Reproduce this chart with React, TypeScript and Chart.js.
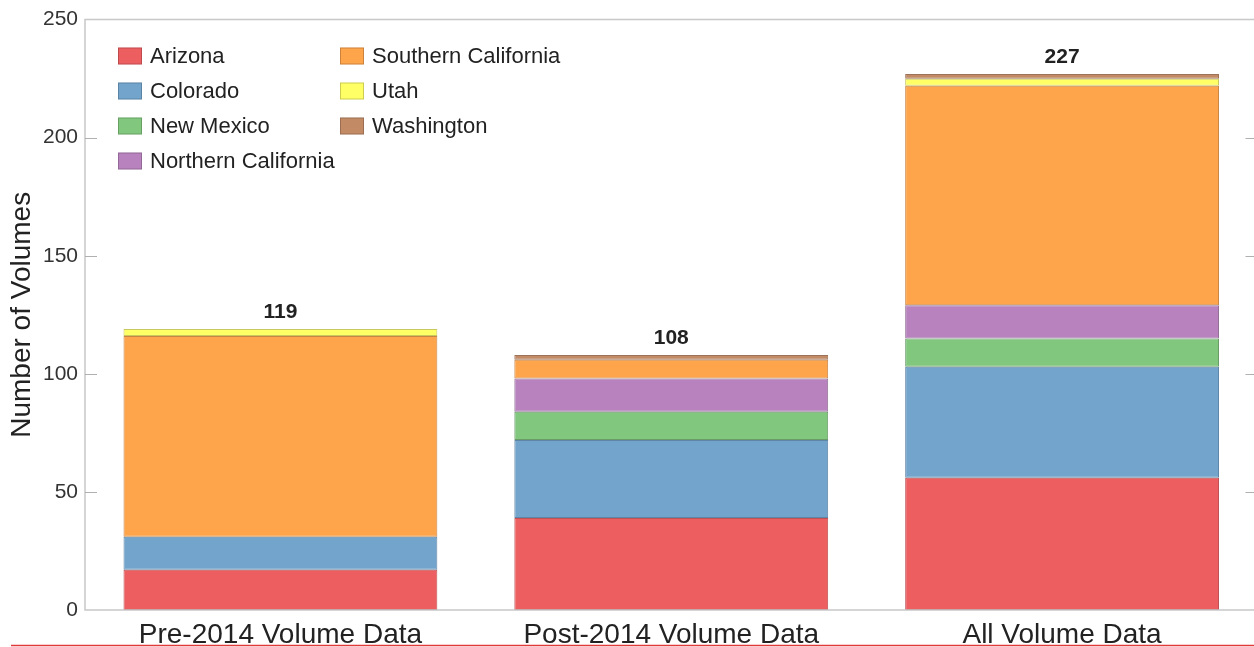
import React, { useEffect, useRef } from "react";
import { Chart, registerables } from "chart.js";

Chart.register(...registerables);

const categories = ["Pre-2014 Volume Data", "Post-2014 Volume Data", "All Volume Data"];
const arizona = [17, 39, 56];
const colorado = [14, 33, 47];
const newMexico = [0, 12, 12];
const northernCalifornia = [0, 14, 14];
const southernCalifornia = [85, 8, 93];
const utah = [3, 0, 3];
const washington = [0, 2, 2];
const totals = [119, 108, 227];
const yTicks = [50, 100, 150, 200];

const seriesNames = ["Arizona", "Colorado", "New Mexico", "Northern California", "Southern California", "Utah", "Washington"];
const seriesValues = [arizona, colorado, newMexico, northernCalifornia, southernCalifornia, utah, washington];
const seriesColors = ["#ED5E61", "#72A4CC", "#81C77E", "#B782BD", "#FEA44B", "#FFFF66", "#C38A66"];
const seriesBorders = ["#BE5254", "#5F86A6", "#6A9C68", "#927098", "#C98544", "#C9C760", "#9C7258"];

const FONT = "'Liberation Sans', Arial, sans-serif";

const decorPlugin = {
  id: "decor",
  afterDatasetsDraw(chart: any) {
    const { ctx, chartArea } = chart;
    const { left, right, top, bottom } = chartArea;
    const y = chart.scales.y;
    ctx.save();
    // frame
    ctx.strokeStyle = "#c8c8c8";
    ctx.lineWidth = 1.5;
    ctx.beginPath();
    ctx.moveTo(left, top);
    ctx.lineTo(right, top);
    ctx.lineTo(right, bottom);
    ctx.lineTo(left, bottom);
    ctx.closePath();
    ctx.stroke();
    // inward ticks
    ctx.strokeStyle = "#b0b0b0";
    ctx.lineWidth = 1.2;
    yTicks.forEach((v) => {
      const py = Math.round(y.getPixelForValue(v)) + 0.5;
      ctx.beginPath();
      ctx.moveTo(left, py);
      ctx.lineTo(left + 12, py);
      ctx.moveTo(right - 12, py);
      ctx.lineTo(right, py);
      ctx.stroke();
    });
    // totals
    const meta = chart.getDatasetMeta(0);
    ctx.fillStyle = "#222";
    ctx.font = `bold 21px ${FONT}`;
    ctx.textAlign = "center";
    ctx.textBaseline = "bottom";
    totals.forEach((t, i) => {
      const px = meta.data[i].x;
      const py = y.getPixelForValue(t);
      ctx.fillText(String(t), px, py - 6);
    });
    // legend
    ctx.font = `22px ${FONT}`;
    ctx.textAlign = "left";
    ctx.textBaseline = "middle";
    seriesNames.forEach((name, i) => {
      const col = i < 4 ? 0 : 1;
      const row = i < 4 ? i : i - 4;
      const bx = col === 0 ? 118 : 340;
      const cy = 56 + row * 35;
      ctx.fillStyle = seriesColors[i];
      ctx.fillRect(bx, cy - 8.5, 24, 17);
      ctx.strokeStyle = "rgba(0,0,0,0.2)";
      ctx.lineWidth = 1;
      ctx.strokeRect(bx + 0.5, cy - 8, 23, 16);
      ctx.fillStyle = "#222";
      ctx.fillText(name, bx + 32, cy + 1);
    });
    // red line at bottom
    ctx.strokeStyle = "#e23a3a";
    ctx.lineWidth = 1.5;
    ctx.beginPath();
    ctx.moveTo(11, 645.5);
    ctx.lineTo(chart.width, 645.5);
    ctx.stroke();
    ctx.restore();
  },
};

export default function App() {
  const ref = useRef<HTMLCanvasElement>(null);
  useEffect(() => {
    const chart = new Chart(ref.current!, {
      type: "bar",
      data: {
        labels: categories,
        datasets: seriesNames.map((n, i) => ({
          label: n,
          data: seriesValues[i],
          backgroundColor: seriesColors[i],
          borderColor: seriesBorders[i],
          borderWidth: 1,
          borderSkipped: false,
          categoryPercentage: 1,
          barPercentage: 0.803,
        })),
      },
      options: {
        responsive: false,
        animation: false,
        devicePixelRatio: 1,
        layout: { padding: { left: 0, right: 4.5, top: 19, bottom: 0 } },
        plugins: { legend: { display: false }, tooltip: { enabled: false } },
        scales: {
          x: {
            stacked: true,
            grid: { display: false, drawTicks: false },
            border: { display: false },
            ticks: { color: "#222", font: { family: FONT, size: 28 }, padding: 8, maxRotation: 0 },
            afterFit: (s: any) => { s.height = 37; },
          },
          y: {
            stacked: true,
            min: 0,
            max: 250,
            grid: { display: false, drawTicks: false },
            border: { display: false },
            ticks: { stepSize: 50, color: "#333", font: { family: FONT, size: 21 }, padding: 7 },
            title: { display: true, text: "Number of Volumes", color: "#222", font: { family: FONT, size: 28 }, padding: { top: 5, bottom: 0 } },
            afterFit: (s: any) => { s.width = 85; },
          },
        },
      },
      plugins: [decorPlugin],
    });
    return () => chart.destroy();
  }, []);
  return (
    <div style={{ position: "fixed", left: 0, top: 0, width: 1254, height: 647, overflow: "hidden", background: "#fff" }}>
      <canvas ref={ref} width={1262} height={647} style={{ width: 1262, height: 647, display: "block" }} />
    </div>
  );
}
